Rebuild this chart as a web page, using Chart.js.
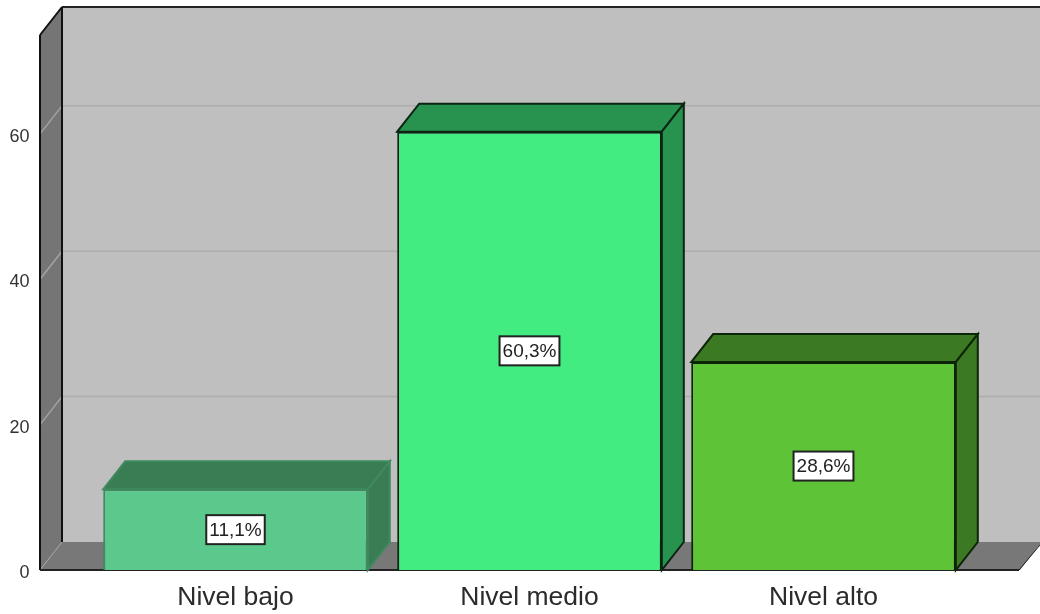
<!DOCTYPE html>
<html>
<head>
<meta charset="utf-8">
<script src="https://cdn.jsdelivr.net/npm/chart.js@4/dist/chart.umd.min.js"></script>
<style>
  html, body { margin: 0; padding: 0; background: #fff; }
  canvas { display: block; }
</style>
</head>
<body>
<canvas id="nivelChart" width="1040" height="614"></canvas>
<script>
const categories = ['Nivel bajo', 'Nivel medio', 'Nivel alto'];
const percentages = [11.1, 60.3, 28.6];
const yTicks = [0, 20, 40, 60];
const frontColors = ['#5cc98c', '#43ec80', '#5fc337'];
const sideColors = ['#3a7d55', '#27934f', '#3b7a22'];
const edgeColors = ['#3f8a5f', '#0c2414', '#0c2408'];

const depthX = 22;
const depthY = 28;
const wallLeft = 40;

function poly(c, pts, fill, stroke, lw) {
    c.beginPath();
    pts.forEach((p, i) => i ? c.lineTo(p[0], p[1]) : c.moveTo(p[0], p[1]));
    c.closePath();
    if (fill) { c.fillStyle = fill; c.fill(); }
    if (stroke) { c.strokeStyle = stroke; c.lineWidth = lw || 1.5; c.stroke(); }
}

function line(c, x1, y1, x2, y2, color, lw) {
    c.beginPath();
    c.moveTo(x1, y1);
    c.lineTo(x2, y2);
    c.strokeStyle = color;
    c.lineWidth = lw;
    c.stroke();
}

// back wall, left wall and floor of the 3D box
const boxPlugin = {
    id: 'box3d',
    beforeDatasetsDraw(chart) {
        const c = chart.ctx;
        const y = chart.scales.y;
        const top = chart.chartArea.top;
        const base = y.getPixelForValue(0);
        const backX = wallLeft + depthX;
        const rightEdge = chart.width;
        c.save();
        poly(c, [[backX, top - depthY], [rightEdge, top - depthY], [rightEdge, base - depthY], [backX, base - depthY]], '#bfbfbf');
        poly(c, [[wallLeft, top], [backX, top - depthY], [backX, base - depthY], [wallLeft, base]], '#757575');
        poly(c, [[wallLeft, base], [backX, base - depthY], [rightEdge + 2, base - depthY], [rightEdge - depthX + 2, base]], '#787878');
        yTicks.forEach(v => {
            if (v === 0) return;
            const py = y.getPixelForValue(v);
            line(c, backX, py - depthY, rightEdge, py - depthY, '#adadad', 1.5);
            line(c, wallLeft, py, backX, py - depthY, '#a3a3a3', 1.5);
        });
        line(c, wallLeft, base, backX, base - depthY, '#a3a3a3', 1);
        line(c, backX, top - depthY, rightEdge, top - depthY, '#222', 2);
        line(c, backX, top - depthY, backX, base - depthY, '#111', 2);
        line(c, wallLeft, top, backX, top - depthY, '#111', 2);
        line(c, wallLeft, top, wallLeft, base, '#111', 2);
        line(c, wallLeft, base, rightEdge - depthX + 1, base, '#222', 2);
        line(c, rightEdge - depthX + 1, base, rightEdge, base - depthY + 3, '#222', 1);

        // top and side faces of the bars
        chart.getDatasetMeta(0).data.forEach((bar, i) => {
            const l = bar.x - bar.width / 2;
            const r = bar.x + bar.width / 2;
            const t = bar.y;
            const b = bar.base;
            poly(c, [[l, t], [l + depthX, t - depthY], [r + depthX, t - depthY], [r, t]], sideColors[i], edgeColors[i], 2);
            poly(c, [[r, t], [r + depthX, t - depthY], [r + depthX, b - depthY], [r, b]], sideColors[i], edgeColors[i], 2);
        });
        c.restore();
    },
    afterDatasetsDraw(chart) {
        const c = chart.ctx;
        c.save();
        c.font = '19px "Liberation Sans", Arial, sans-serif';
        c.textAlign = 'center';
        c.textBaseline = 'middle';
        chart.getDatasetMeta(0).data.forEach((bar, i) => {
            const text = percentages[i].toFixed(1).replace('.', ',') + '%';
            const w = c.measureText(text).width + 6;
            const h = 29;
            const cy = (bar.y + bar.base) / 2;
            c.fillStyle = '#fff';
            c.fillRect(bar.x - w / 2, cy - h / 2, w, h);
            c.strokeStyle = '#222';
            c.lineWidth = 2;
            c.strokeRect(bar.x - w / 2, cy - h / 2, w, h);
            c.fillStyle = '#222';
            c.fillText(text, bar.x, cy + 1);
        });
        c.restore();
    }
};

new Chart(document.getElementById('nivelChart').getContext('2d'), {
    type: 'bar',
    data: {
        labels: categories,
        datasets: [{
            data: percentages,
            backgroundColor: frontColors,
            borderColor: edgeColors,
            borderWidth: 2,
            categoryPercentage: 1,
            barPercentage: 0.9,
            clip: false
        }]
    },
    options: {
        responsive: false,
        animation: false,
        layout: { padding: { top: 35, right: 69.5, left: 0, bottom: 0 } },
        plugins: { legend: { display: false }, tooltip: { enabled: false } },
        scales: {
            x: {
                afterFit(scale) { scale.height = 44; },
                grid: { display: false, drawTicks: false },
                border: { display: false },
                ticks: { color: '#2b2b2b', padding: 12, maxRotation: 0, font: { family: '"Liberation Sans", Arial, sans-serif', size: 26.5 } }
            },
            y: {
                min: 0,
                max: 73.6,
                afterBuildTicks(scale) { scale.ticks = yTicks.map(v => ({ value: v })); },
                afterFit(scale) {
                    scale.width = 88.5;
                    // large tick padding would otherwise push the plot area in
                    scale.paddingTop = 0;
                    scale.paddingBottom = 0;
                },
                grid: { display: false, drawTicks: false },
                border: { display: false },
                ticks: { color: '#333', padding: 59, labelOffset: 3, font: { family: '"Liberation Sans", Arial, sans-serif', size: 18 } }
            }
        }
    },
    plugins: [boxPlugin]
});
</script>
</body>
</html>
